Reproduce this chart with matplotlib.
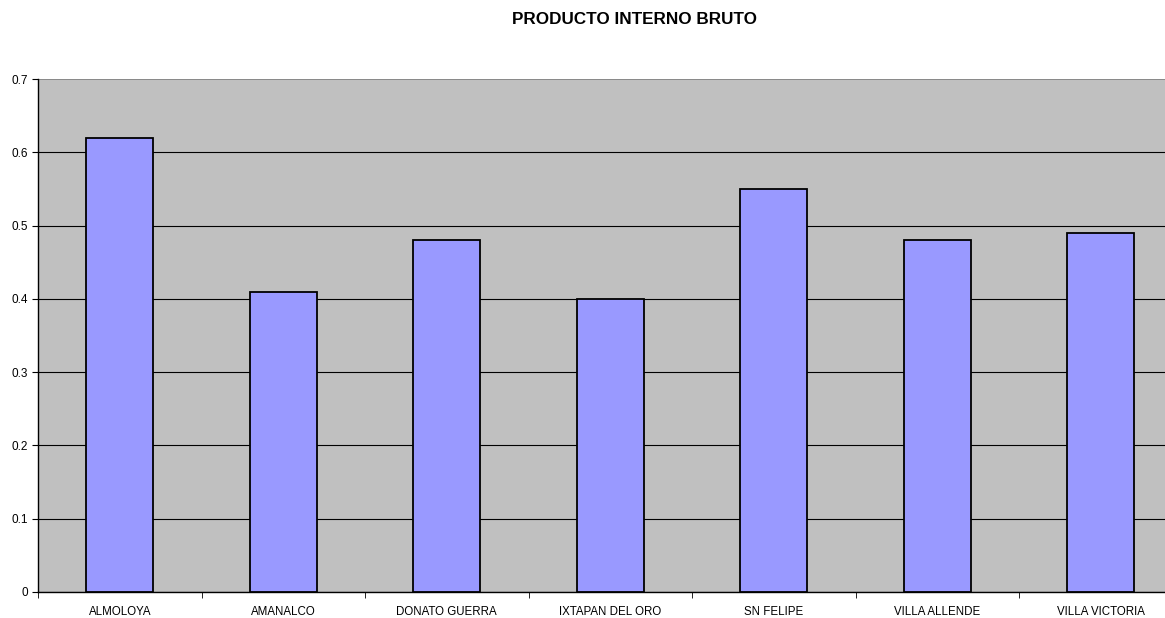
import numpy as np
import matplotlib.pyplot as plt

plt.rcParams['font.family'] = ['Liberation Sans', 'DejaVu Sans']

municipios = ['ALMOLOYA', 'AMANALCO', 'DONATO GUERRA', 'IXTAPAN DEL ORO',
              'SN FELIPE', 'VILLA ALLENDE', 'VILLA VICTORIA']
pib = [0.62, 0.41, 0.48, 0.40, 0.55, 0.48, 0.49]
yticks = [0, 0.1, 0.2, 0.3, 0.4, 0.5, 0.6, 0.7]

W, H = 1165, 618
fig = plt.figure(figsize=(W / 100, H / 100), dpi=100)
# plot area runs past the right edge, as in the original crop
ax = fig.add_axes([38 / W, (H - 592) / H, 1144.5 / W, (592 - 79) / H])
ax.set_facecolor('#C0C0C0')

x = np.arange(len(municipios))
ax.bar(x, pib, width=0.41, color='#9999FF', edgecolor='black', linewidth=1.3, zorder=3)

ax.set_xlim(-0.5, len(municipios) - 0.5)
ax.set_ylim(0, 0.7)
ax.set_yticks(yticks)
ax.set_yticklabels(['0'] + [f'{v:.1f}' for v in yticks[1:]], fontsize=8.5)
ax.yaxis.grid(True, color='black', linewidth=0.8, zorder=1)
ax.get_ygridlines()[-1].set_color('#808080')
ax.get_ygridlines()[-1].set_linewidth(1.2)

# category labels centred, ticks at boundaries
ax.set_xticks(x)
ax.set_xticklabels(municipios, fontsize=8.3)
ax.tick_params(axis='x', length=0, pad=10)
ax.set_xticks(np.arange(len(municipios) + 1) - 0.5, minor=True)
ax.tick_params(axis='x', which='minor', length=4, direction='out', color='black')
ax.tick_params(axis='y', length=4, direction='out', pad=3)

for s in ['top', 'right']:
    ax.spines[s].set_visible(False)
ax.spines['left'].set_linewidth(1.0)
ax.spines['bottom'].set_linewidth(1.0)

fig.text(634 / W, 1 - 19 / H, 'PRODUCTO INTERNO BRUTO', ha='center', va='center',
         fontsize=12.3, fontweight='bold')

fig.savefig('out.png', dpi=100)
